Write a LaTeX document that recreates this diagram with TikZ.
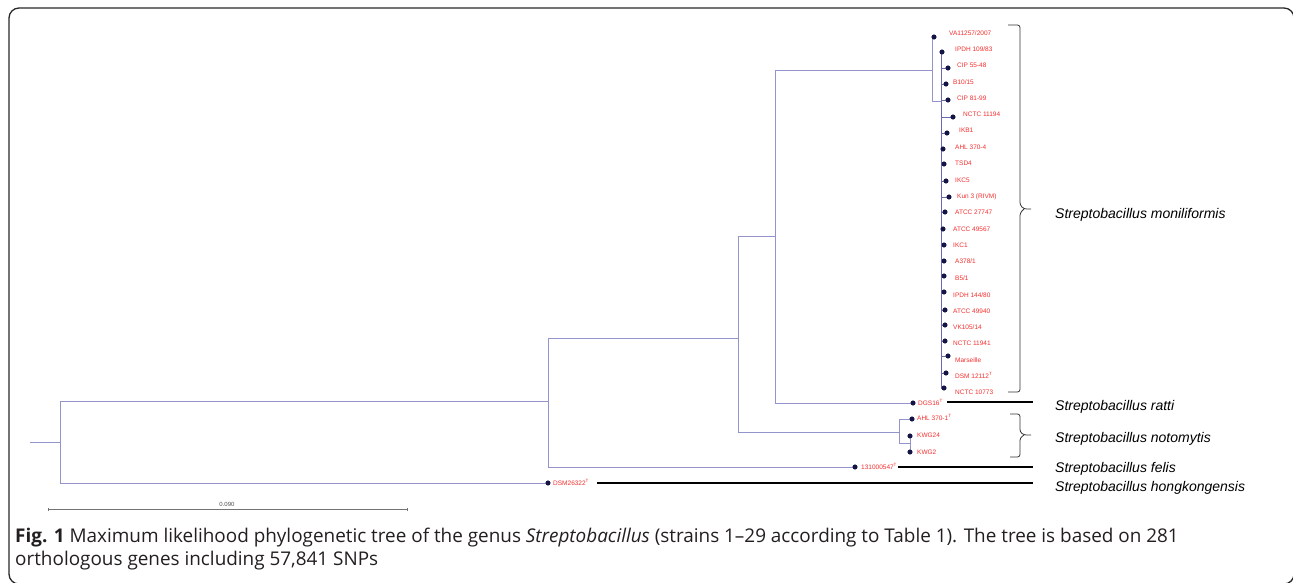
\documentclass[tikz,border=0pt]{standalone}
\usepackage{fontspec}
\setmainfont{Open Sans}
\newfontfamily\arial{Liberation Sans}
\definecolor{branch}{RGB}{148,148,205}
\definecolor{combc}{RGB}{105,105,180}
\definecolor{dotc}{RGB}{20,20,70}
\definecolor{leafred}{RGB}{245,45,45}
\definecolor{captext}{RGB}{35,31,32}
\definecolor{framec}{RGB}{40,40,40}
\begin{document}
\begin{tikzpicture}[x=1pt,y=-1pt,
  br/.style={draw=branch,line width=0.9pt},
  cb/.style={draw=combc,line width=0.8pt},
  dotn/.style={circle,fill=dotc,inner sep=0pt,minimum size=4.8pt},
  leaf/.style={anchor=base west,inner sep=0pt,text=leafred,font=\arial\fontsize{6.5}{7}\selectfont},
  sp/.style={anchor=base west,inner sep=0pt,font=\arial\itshape\fontsize{14}{16}\selectfont},
  brk/.style={draw=black!80,line width=0.8pt,rounded corners=2.5pt},
  sline/.style={draw=black,line width=1.1pt},
  scalebar/.style={draw=black!55,line width=0.6pt},
  captionline/.style={anchor=base west,inner sep=0pt,text=captext,font=\fontsize{18.9}{23}\selectfont},
  framebox/.style={draw=framec,line width=1.3pt,rounded corners=10pt}
]
\useasboundingbox (0,0) rectangle (1293,582);
\clip (0,0) rectangle (1293,582);
\draw[framebox] (9,8) rectangle (1294,584);

% internal nodes
\coordinate (stub) at (30,442);
\coordinate (r) at (60,442);
\coordinate (A) at (548,401);
\coordinate (B) at (738,338);
\coordinate (C) at (775,236);
\coordinate (M) at (932,70);
\coordinate (M2) at (941,101);
\coordinate (N) at (899,432);
\coordinate (N2) at (910,443);

% leaf dots
\node[dotn] (d1) at (934,37) {};
\node[dotn] (d2) at (942,52) {};
\node[dotn] (d3) at (948,68) {};
\node[dotn] (d4) at (946,84) {};
\node[dotn] (d5) at (948,100) {};
\node[dotn] (d6) at (953,117) {};
\node[dotn] (d7) at (947,133) {};
\node[dotn] (d8) at (943,149) {};
\node[dotn] (d9) at (944,164) {};
\node[dotn] (d10) at (946,181) {};
\node[dotn] (d11) at (949,197) {};
\node[dotn] (d12) at (945,212) {};
\node[dotn] (d13) at (943,229) {};
\node[dotn] (d14) at (944,245) {};
\node[dotn] (d15) at (944,261) {};
\node[dotn] (d16) at (944,276) {};
\node[dotn] (d17) at (944,292) {};
\node[dotn] (d18) at (945,310) {};
\node[dotn] (d19) at (945,325) {};
\node[dotn] (d20) at (945,341) {};
\node[dotn] (d21) at (948,356) {};
\node[dotn] (d22) at (946,373) {};
\node[dotn] (d23) at (944,388) {};
\node[dotn] (d24) at (913,403) {};
\node[dotn] (d25) at (912,419) {};
\node[dotn] (d26) at (910,436) {};
\node[dotn] (d27) at (910,452) {};
\node[dotn] (d28) at (855,467) {};
\node[dotn] (d29) at (548,483) {};

% branches
\draw[br] (stub) -- (r);
\draw[br] (r) |- (A);
\draw[br] (r) |- (d29.center);
\draw[br] (A) |- (B);
\draw[br] (A) |- (d28.center);
\draw[br] (B) |- (C);
\draw[br] (B) |- (N);
\draw[br] (C) |- (M);
\draw[br] (C) |- (d24.center);
\draw[br] (M) |- (d1.center);
\draw[br] (M) |- (M2);
\foreach \i in {2,...,23} { \draw[cb] (M2) |- (d\i.center); }
\draw[br] (N) |- (d25.center);
\draw[br] (N) |- (N2);
\draw[br] (N2) |- (d26.center);
\draw[br] (N2) |- (d27.center);
% redraw dots on top
\foreach \i in {1,...,29} { \fill[dotc] (d\i.center) circle (2.4pt); }

% leaf labels
\node[leaf] (t1) at (949,35.3) {VA11257/2007};
\node[leaf] (t2) at (955,51.3) {IPDH 109/83};
\node[leaf] (t3) at (957,67.3) {CIP 55-48};
\node[leaf] (t4) at (953,84.3) {B10/15};
\node[leaf] (t5) at (957,100.3) {CIP 81-99};
\node[leaf] (t6) at (963,116.3) {NCTC 11194};
\node[leaf] (t7) at (959,132.3) {IKB1};
\node[leaf] (t8) at (955,149.3) {AHL 370-4};
\node[leaf] (t9) at (955,165.3) {TSD4};
\node[leaf] (t10) at (955,182.3) {IKC5};
\node[leaf] (t11) at (957,198.3) {Kun 3 (RIVM)};
\node[leaf] (t12) at (955,214.3) {ATCC 27747};
\node[leaf] (t13) at (953,231.3) {ATCC 49567};
\node[leaf] (t14) at (953,247.3) {IKC1};
\node[leaf] (t15) at (955,263.3) {A378/1};
\node[leaf] (t16) at (955,280.3) {B5/1};
\node[leaf] (t17) at (953,297.3) {IPDH 144/80};
\node[leaf] (t18) at (953,313.3) {ATCC 49940};
\node[leaf] (t19) at (953,329.3) {VK105/14};
\node[leaf] (t20) at (953,345.3) {NCTC 11941};
\node[leaf] (t21) at (955,362.3) {Marseille};
\node[leaf] (t22) at (955,378.3) {DSM 12112\textsuperscript{T}};
\node[leaf] (t23) at (955,394.3) {NCTC 10773};
\node[leaf] (t24) at (918,405.3) {DGS16\textsuperscript{T}};
\node[leaf] (t25) at (917,420.3) {AHL 370-1\textsuperscript{T}};
\node[leaf] (t26) at (917,437.3) {KWG24};
\node[leaf] (t27) at (917,454.3) {KWG2};
\node[leaf] (t28) at (861,469.3) {131000547\textsuperscript{T}};
\node[leaf] (t29) at (553,485.3) {DSM26322\textsuperscript{T}};

% species labels
\node[sp] (s1) at (1055,218) {Streptobacillus moniliformis};
\node[sp] (s2) at (1055,410) {Streptobacillus ratti};
\node[sp] (s3) at (1055,442) {Streptobacillus notomytis};
\node[sp] (s4) at (1055,472) {Streptobacillus felis};
\node[sp] (s5) at (1055,491) {Streptobacillus hongkongensis};

% brackets
\draw[brk] (1008,25) -| (1020,205) -- (1024,209) -- (1031,209);
\draw[brk] (1024,209) -- (1020,213) |- (1008,392);
\draw[brk] (1010,414) -| (1020,432) -- (1024,435) -- (1031,435);
\draw[brk] (1024,435) -- (1020,438) |- (1010,457);

% species lines
\coordinate (ra) at (947,402); \coordinate (rb) at (1033,402);
\coordinate (fa) at (898,467); \coordinate (fb) at (1033,467);
\coordinate (ha) at (597,483); \coordinate (hb) at (1033,483);
\draw[sline] (ra) -- (rb);
\draw[sline] (fa) -- (fb);
\draw[sline] (ha) -- (hb);

% scale bar
\coordinate (sa) at (48,509); \coordinate (sb) at (407,509);
\draw[scalebar] (sa) -- (sb);
\draw[scalebar] ([yshift=-1.5pt]sa) -- ([yshift=1.5pt]sa);
\draw[scalebar] ([yshift=-1.5pt]sb) -- ([yshift=1.5pt]sb);
\node[inner sep=0pt,anchor=base,text=black!70,font=\arial\fontsize{6}{7}\selectfont] (sl) at (227,506) {0.090};

% caption
\node[captionline] (cap1) at (15,542) {\textbf{Fig. 1} Maximum likelihood phylogenetic tree of the genus \textit{Streptobacillus} (strains 1–29 according to Table 1). The tree is based on 281};
\node[captionline] (cap2) at (15,565) {orthologous genes including 57,841 SNPs};
\end{tikzpicture}
\end{document}
